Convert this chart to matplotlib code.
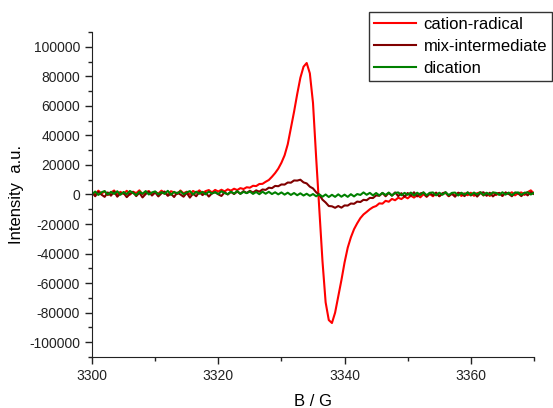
import numpy as np
import matplotlib
matplotlib.use("Agg")
from matplotlib import pyplot as plt
from matplotlib import ticker

# field sweep, 0.5 G steps
field = np.arange(3300, 3370.25, 0.5)

# intensities in thousands
cation_radical = [
    1.5, -0.2, 2.6, 0.6, 2.1, -0.4, 1.3, 2.7, 0.1, 1.8,
    0.4, 2.5, -0.1, 1.9, 0.9, 2.8, 0.2, 1.5, 2.3, 0.0,
    1.7, 0.6, 2.6, 1.0, -0.3, 2.2, 1.4, 0.3, 2.7, 0.8,
    1.9, 0.2, 2.4, 1.1, 2.8, 0.9, 2.3, 3.0, 1.4, 3.1,
    2.0, 3.2, 2.1, 3.5, 2.6, 3.9, 3.0, 4.3, 3.7, 4.9,
    4.6, 5.9, 5.7, 7.1, 7.2, 8.6, 9.8, 12.0, 14.5, 17.5,
    21.5, 26.5, 34.0, 45.0, 56.0, 68.0, 79.0, 86.5, 89.0, 82.0,
    62.0, 25.0, -10.0, -45.0, -73.0, -85.0, -87.0, -80.0, -69.0, -58.0,
    -46.0, -36.0, -29.0, -23.5, -19.5, -16.0, -13.5, -11.8, -10.0, -8.6,
    -7.8, -6.0, -6.2, -4.3, -4.9, -3.0, -3.9, -2.2, -3.1, -1.4,
    -2.6, -0.8, -2.1, -0.3, -1.9, 0.2, -1.5, 0.3, -1.2, 0.9,
    -1.1, 0.5, 1.0, -1.2, 0.7, -0.8, 1.1, -1.0, 0.8, -0.5,
    1.2, -0.9, 0.9, 1.4, -0.7, 1.0, -1.0, 1.3, -0.4, 1.1,
    -0.8, 1.2, 0.3, 1.5, -0.6, 0.9, 1.4, -0.3, 1.6, 2.8, 0.6,
]

mix_intermediate = [
    1.3, -1.2, 1.8, -0.1, -1.6, 1.4, -0.8, 2.0, -1.5, 0.7,
    1.0, -1.8, 0.4, 1.6, -1.1, 1.2, -2.0, 0.3, 1.9, -0.7,
    1.4, -1.3, 0.8, 2.0, -0.9, 0.5, -1.7, 1.3, 0.0, -1.5,
    1.1, -2.1, 0.6, -1.2, 1.7, -0.4, 1.2, -1.4, 0.8, 1.6,
    0.1, -1.0, 1.5, 0.0, 1.8, 0.3, 2.0, 0.5, 2.3, 1.0,
    2.5, 1.3, 2.8, 1.9, 3.4, 3.1, 4.6, 4.3, 5.8, 5.6,
    6.8, 6.7, 8.1, 8.0, 9.5, 9.4, 10.0, 8.2, 7.5, 5.3,
    4.1, 1.5, -0.2, -3.5, -5.4, -7.8, -8.0, -9.0, -7.8, -8.9,
    -7.4, -7.5, -6.1, -6.3, -4.8, -5.1, -3.6, -3.9, -2.3, -2.4,
    -0.6, -0.9, 1.0, -1.2, 1.1, -0.8, 1.4, -1.1, 0.9, -1.5,
    1.0, -0.9, 1.5, -1.3, 0.7, 1.2, -1.4, 1.1, -0.6, 1.3,
    -1.2, 0.8, 1.5, -1.0, 0.5, -1.5, 1.2, 0.6, -1.1, 1.4,
    -0.7, 1.1, -1.4, 0.9, 1.5, -0.9, 1.2, -1.3, 0.6, 1.0,
    -1.0, 1.4, 0.4, -1.2, 1.3, 0.7, -1.1, 1.2, -0.6, 1.5, 0.3,
]

dication = [
    0.1, 2.0, -0.3, 1.5, 2.3, -0.1, 1.8, 0.4, 2.2, -0.2,
    1.7, 0.2, 2.4, 1.0, -0.4, 1.9, 0.5, 2.3, 0.0, 1.4,
    2.1, 0.1, 1.6, 0.4, 2.5, -0.2, 1.8, 0.7, 2.2, 0.2,
    1.4, 2.3, 0.0, 1.9, 0.5, 1.8, 0.1, 2.0, 0.6, 1.6,
    0.3, 2.2, 1.0, 0.2, 1.9, 0.6, 2.3, 0.4, 1.8, 0.9,
    2.0, 0.4, 1.7, 0.2, 1.9, 0.5, 1.8, 0.3, 1.5, 0.1,
    1.4, -0.1, 1.2, -0.3, 1.0, -0.5, 0.8, -0.7, 0.5, -0.9,
    0.3, -1.2, 0.1, -1.5, 0.0, -1.7, -0.2, -1.6, 0.1, -1.5,
    -0.1, -1.6, 0.2, -1.3, 0.3, -0.3, 1.4, -0.2, 1.1, -0.6,
    1.0, -0.6, 1.1, -0.3, 1.3, -0.7, 1.0, 1.4, -0.5, 1.1,
    -0.2, 1.3, -0.7, 1.2, -0.3, 1.5, -0.5, 1.1, 1.4, -0.6,
    1.2, -0.2, 1.5, -0.4, 1.1, 1.3, -0.7, 1.2, 0.0, 1.4,
    -0.3, 1.3, 0.0, 1.6, -0.5, 1.2, -0.2, 1.4, 1.1, -0.3,
    1.5, -0.1, 1.3, -0.5, 1.2, 1.4, -0.2, 1.1, 1.5, 0.0, 1.2,
]

labels = ['cation-radical', 'mix-intermediate', 'dication']
colors = ['#ff0000', '#800000', '#008000']

plt.rcParams['font.family'] = ['Liberation Sans', 'DejaVu Sans']

fig = plt.figure(figsize=(5.53, 4.08), dpi=100)
ax = fig.add_axes([0.1664, 0.125, 0.7992, 0.7966])

series = [cation_radical, mix_intermediate, dication]
for vals, lab, col in zip(series, labels, colors):
    ax.plot(field, np.array(vals) * 1000, color=col, lw=1.5, label=lab)

ax.set_xlim(3300, 3370)
ax.set_ylim(-110000, 110000)
ax.xaxis.set_major_locator(ticker.MultipleLocator(20))
ax.xaxis.set_minor_locator(ticker.MultipleLocator(10))
ax.yaxis.set_major_locator(ticker.MultipleLocator(20000))
ax.yaxis.set_minor_locator(ticker.MultipleLocator(10000))
ax.yaxis.set_major_formatter(ticker.FuncFormatter(lambda v, p: '%d' % round(v)))

ax.spines['top'].set_visible(False)
ax.spines['right'].set_visible(False)
ax.tick_params(which='major', direction='out', length=5, width=1, labelsize=10, colors='#222222')
ax.tick_params(which='minor', direction='out', length=3, width=1, colors='#222222')
for s in ['left', 'bottom']:
    ax.spines[s].set_color('#222222')

ax.set_xlabel('B / G', fontsize=12, labelpad=8)
ax.set_ylabel('Intensity  a.u.', fontsize=12, labelpad=4)

leg = ax.legend(loc='upper left', bbox_to_anchor=(369 / 553, 1 - 12 / 408),
                bbox_transform=fig.transFigure, fontsize=12, fancybox=False,
                frameon=True, borderaxespad=0, borderpad=0.32, labelspacing=0.4,
                handlelength=2.5, handletextpad=0.45)
leg.get_frame().set_edgecolor('black')
leg.get_frame().set_linewidth(1.0)

fig.savefig('out.png', dpi=100)
